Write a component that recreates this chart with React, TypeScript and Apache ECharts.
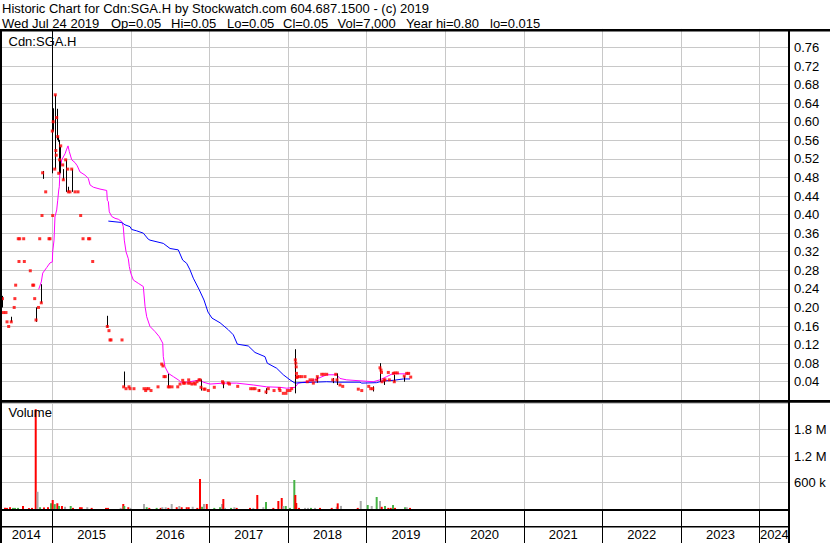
import React, { useEffect, useRef } from "react";
import * as echarts from "echarts";

// ---- axis range (decimal years) ----
const AXIS_START = 2014.3346;
const AXIS_END = 2024.3728;
const yearBoundaries = [2015, 2016, 2017, 2018, 2019, 2020, 2021, 2022, 2023, 2024];
const yearLabels = [2014, 2015, 2016, 2017, 2018, 2019, 2020, 2021, 2022, 2023, 2024];

// ---- price: daily closes (red dots) ----
const closeYears = [
  2014.366, 2014.379, 2014.411, 2014.424, 2014.445, 2014.478, 2014.515, 2014.524, 2014.534, 2014.567,
  2014.576, 2014.585, 2014.636, 2014.644, 2014.720, 2014.751, 2014.763, 2014.776, 2014.793, 2014.824,
  2014.840, 2014.860, 2014.869, 2014.877, 2014.916, 2014.958, 2014.971, 2015.000, 2015.005, 2015.011,
  2015.031, 2015.038, 2015.045, 2015.050, 2015.056, 2015.069, 2015.082, 2015.093, 2015.107, 2015.132,
  2015.140, 2015.170, 2015.196, 2015.204, 2015.225, 2015.247, 2015.289, 2015.327, 2015.361, 2015.391,
  2015.461, 2015.476, 2015.514, 2015.700, 2015.721, 2015.734, 2015.747, 2015.887, 2015.908, 2015.938,
  2015.976, 2015.989, 2016.039, 2016.167, 2016.188, 2016.201, 2016.227, 2016.256, 2016.345, 2016.392,
  2016.408, 2016.421, 2016.438, 2016.476, 2016.491, 2016.523, 2016.596, 2016.625, 2016.659, 2016.669,
  2016.682, 2016.727, 2016.735, 2016.752, 2016.777, 2016.803, 2016.819, 2016.841, 2016.867, 2016.879,
  2016.892, 2016.930, 2016.943, 2016.985, 2017.061, 2017.166, 2017.176, 2017.239, 2017.255, 2017.359,
  2017.524, 2017.554, 2017.579, 2017.630, 2017.719, 2017.748, 2017.821, 2017.888, 2017.897, 2017.939,
  2017.973, 2017.990, 2018.024, 2018.046, 2018.092, 2018.098, 2018.103, 2018.107, 2018.111, 2018.120,
  2018.143, 2018.173, 2018.215, 2018.244, 2018.279, 2018.313, 2018.321, 2018.364, 2018.372, 2018.428,
  2018.457, 2018.491, 2018.568, 2018.606, 2018.622, 2018.660, 2018.695, 2018.893, 2018.937, 2019.026,
  2019.051, 2019.077, 2019.169, 2019.182, 2019.188, 2019.195, 2019.220, 2019.233, 2019.275, 2019.288,
  2019.339, 2019.351, 2019.360, 2019.390, 2019.478, 2019.509, 2019.534, 2019.560,
];
const closeValues = [
  0.219, 0.189, 0.189, 0.169, 0.159, 0.169, 0.200, 0.219, 0.248, 0.348,
  0.299, 0.348, 0.348, 0.299, 0.279, 0.248, 0.248, 0.219, 0.173, 0.200,
  0.348, 0.210, 0.398, 0.490, 0.449, 0.348, 0.348, 0.580, 0.398, 0.600,
  0.498, 0.658, 0.538, 0.528, 0.609, 0.568, 0.489, 0.518, 0.548, 0.507,
  0.475, 0.518, 0.498, 0.449, 0.449, 0.498, 0.449, 0.449, 0.398, 0.348,
  0.348, 0.348, 0.299, 0.159, 0.150, 0.130, 0.130, 0.130, 0.029, 0.025,
  0.029, 0.025, 0.025, 0.025, 0.021, 0.025, 0.025, 0.021, 0.029, 0.078,
  0.074, 0.051, 0.051, 0.029, 0.029, 0.029, 0.029, 0.035, 0.043, 0.037,
  0.037, 0.037, 0.044, 0.037, 0.035, 0.037, 0.035, 0.040, 0.044, 0.044,
  0.028, 0.024, 0.024, 0.021, 0.028, 0.040, 0.037, 0.037, 0.035, 0.030,
  0.025, 0.025, 0.025, 0.021, 0.018, 0.025, 0.021, 0.025, 0.021, 0.015,
  0.015, 0.021, 0.021, 0.025, 0.087, 0.080, 0.072, 0.058, 0.049, 0.051,
  0.051, 0.051, 0.051, 0.040, 0.044, 0.044, 0.037, 0.044, 0.051, 0.056,
  0.056, 0.056, 0.044, 0.056, 0.044, 0.033, 0.030, 0.024, 0.021, 0.030,
  0.025, 0.025, 0.070, 0.065, 0.060, 0.040, 0.044, 0.044, 0.060, 0.044,
  0.058, 0.040, 0.059, 0.059, 0.052, 0.058, 0.058, 0.050,
];

// ---- price: daily high-low ranges (black bars) ----
const rangeYears = [
  2014.366, 2014.478, 2014.793, 2014.860, 2014.877, 2015.000, 2015.011, 2015.031, 2015.038, 2015.056,
  2015.069, 2015.082, 2015.093, 2015.140, 2015.170, 2015.204, 2015.247, 2015.700, 2015.908, 2016.476,
  2016.892, 2017.176, 2017.630, 2017.719, 2018.092, 2018.364, 2018.568, 2018.622, 2019.077, 2019.169,
  2019.220, 2019.351, 2019.478,
];
const rangeHigh = [
  0.225, 0.180, 0.200, 0.250, 0.494, 0.800, 0.629, 0.597, 0.658, 0.628,
  0.568, 0.561, 0.546, 0.498, 0.518, 0.460, 0.498, 0.182, 0.062, 0.057,
  0.045, 0.040, 0.024, 0.026, 0.110, 0.051, 0.048, 0.058, 0.030, 0.080,
  0.045, 0.055, 0.052,
];
const rangeLow = [
  0.200, 0.169, 0.169, 0.210, 0.477, 0.489, 0.579, 0.498, 0.579, 0.561,
  0.557, 0.489, 0.489, 0.475, 0.449, 0.449, 0.449, 0.157, 0.029, 0.029,
  0.021, 0.026, 0.019, 0.0135, 0.015, 0.038, 0.037, 0.033, 0.019, 0.040,
  0.033, 0.040, 0.040,
];

// ---- moving averages ----
const shortMaYears = [
  2014.827, 2014.860, 2014.878, 2014.929, 2014.971, 2015.000, 2015.005, 2015.022, 2015.034, 2015.056,
  2015.069, 2015.082, 2015.089, 2015.098, 2015.120, 2015.162, 2015.183, 2015.200, 2015.216, 2015.247,
  2015.289, 2015.318, 2015.352, 2015.416, 2015.458, 2015.480, 2015.522, 2015.607, 2015.692, 2015.700,
  2015.713, 2015.725, 2015.756, 2015.798, 2015.840, 2015.883, 2015.903, 2015.916, 2015.938, 2015.967,
  2015.980, 2015.998, 2016.031, 2016.094, 2016.158, 2016.180, 2016.201, 2016.243, 2016.307, 2016.361,
  2016.405, 2016.412, 2016.434, 2016.476, 2016.540, 2016.603, 2016.646, 2016.752, 2016.879, 2016.921,
  2017.006, 2017.176, 2017.346, 2017.557, 2017.728, 2017.897, 2017.982, 2018.088, 2018.130, 2018.237,
  2018.342, 2018.406, 2018.491, 2018.619, 2018.660, 2018.746, 2018.915, 2019.084, 2019.169, 2019.255,
  2019.339, 2019.424, 2019.551,
];
const shortMaValues = [
  0.239, 0.255, 0.274, 0.286, 0.296, 0.298, 0.320, 0.345, 0.395, 0.410,
  0.431, 0.453, 0.460, 0.496, 0.518, 0.531, 0.541, 0.548, 0.536, 0.518,
  0.512, 0.505, 0.492, 0.485, 0.478, 0.464, 0.459, 0.455, 0.452, 0.431,
  0.428, 0.406, 0.396, 0.392, 0.390, 0.385, 0.374, 0.345, 0.320, 0.305,
  0.288, 0.274, 0.259, 0.252, 0.245, 0.202, 0.180, 0.159, 0.148, 0.137,
  0.123, 0.094, 0.072, 0.058, 0.051, 0.044, 0.038, 0.040, 0.044, 0.039,
  0.035, 0.037, 0.037, 0.033, 0.029, 0.028, 0.026, 0.028, 0.037, 0.040,
  0.044, 0.049, 0.055, 0.055, 0.047, 0.044, 0.042, 0.040, 0.044, 0.051,
  0.058, 0.057, 0.057,
];
const longMaYears = [
  2015.713, 2015.883, 2015.925, 2015.989, 2016.010, 2016.074, 2016.158, 2016.221, 2016.243, 2016.412,
  2016.498, 2016.603, 2016.659, 2016.710, 2016.752, 2016.794, 2016.867, 2016.930, 2016.981, 2017.032,
  2017.134, 2017.239, 2017.303, 2017.354, 2017.494, 2017.579, 2017.706, 2017.735, 2017.855, 2017.939,
  2018.024, 2018.088, 2018.151, 2018.321, 2018.491, 2018.660, 2018.915, 2018.937, 2019.127, 2019.169,
  2019.233, 2019.339, 2019.466, 2019.551,
];
const longMaValues = [
  0.386, 0.383, 0.378, 0.374, 0.368, 0.365, 0.360, 0.347, 0.345, 0.338,
  0.327, 0.324, 0.302, 0.295, 0.281, 0.263, 0.239, 0.216, 0.190, 0.177,
  0.167, 0.152, 0.141, 0.121, 0.117, 0.103, 0.094, 0.080, 0.069, 0.055,
  0.044, 0.037, 0.038, 0.039, 0.040, 0.039, 0.039, 0.037, 0.038, 0.040,
  0.042, 0.043, 0.046, 0.046,
];

// ---- volume (direction: 1 up, -1 down, 0 unchanged) ----
const volYears = [
  2014.347, 2014.398, 2014.424, 2014.462, 2014.500, 2014.525, 2014.564, 2014.627, 2014.703, 2014.742,
  2014.789, 2014.812, 2014.844, 2014.894, 2014.945, 2014.984, 2015.005, 2015.031, 2015.064, 2015.085,
  2015.123, 2015.162, 2015.234, 2015.263, 2015.352, 2015.374, 2015.445, 2015.501, 2015.683, 2015.709,
  2015.870, 2015.903, 2015.916, 2015.967, 2015.998, 2016.167, 2016.201, 2016.234, 2016.328, 2016.379,
  2016.400, 2016.443, 2016.476, 2016.519, 2016.583, 2016.616, 2016.646, 2016.710, 2016.735, 2016.786,
  2016.845, 2016.879, 2016.905, 2016.930, 2016.965, 2017.061, 2017.134, 2017.159, 2017.176, 2017.197,
  2017.274, 2017.316, 2017.346, 2017.515, 2017.557, 2017.608, 2017.685, 2017.719, 2017.812, 2017.876,
  2017.919, 2017.939, 2017.970, 2018.024, 2018.079, 2018.092, 2018.104, 2018.139, 2018.215, 2018.253,
  2018.291, 2018.342, 2018.406, 2018.555, 2018.619, 2018.631, 2018.673, 2018.886, 2018.924, 2019.013,
  2019.064, 2019.127, 2019.169, 2019.191, 2019.233, 2019.275, 2019.306, 2019.335, 2019.360, 2019.488,
  2019.509, 2019.551,
];
const volValues = [
  40000, 28000, 25000, 40000, 25000, 25000, 25000, 68000, 20000, 25000,
  2260000, 390000, 40000, 35000, 40000, 130000, 204000, 110000, 130000, 68000,
  68000, 50000, 68000, 25000, 40000, 40000, 40000, 25000, 25000, 25000,
  25000, 113000, 68000, 40000, 25000, 113000, 40000, 25000, 25000, 25000,
  40000, 40000, 25000, 113000, 40000, 68000, 40000, 40000, 40000, 50000,
  25000, 679000, 50000, 113000, 113000, 25000, 40000, 113000, 226000, 25000,
  25000, 40000, 25000, 25000, 25000, 317000, 40000, 158000, 25000, 181000,
  249000, 68000, 68000, 25000, 657000, 317000, 136000, 25000, 25000, 25000,
  25000, 25000, 25000, 25000, 50000, 128000, 70000, 25000, 181000, 90000,
  68000, 272000, 181000, 50000, 68000, 25000, 25000, 90000, 25000, 40000,
  40000, 25000,
];
const volDirection = [
  1, -1, -1, -1, 1, 1, 1, -1, -1, -1,
  -1, 0, 1, -1, -1, 1, -1, 1, -1, 1,
  -1, 0, 1, -1, -1, -1, 0, -1, -1, -1,
  0, -1, 1, -1, 0, 0, 1, -1, 1, -1,
  0, 0, -1, 0, -1, 0, -1, -1, -1, 0,
  -1, -1, 1, 0, -1, 1, 1, 0, -1, 0,
  1, 0, -1, -1, 0, -1, 0, 1, -1, -1,
  -1, 0, 1, 1, 1, -1, -1, -1, 0, 0,
  1, 0, -1, -1, 0, -1, 0, -1, 0, 1,
  0, 1, 0, -1, 1, -1, -1, 1, -1, 1,
  0, -1,
];

// ---- header texts ----
const titleText = "Historic Chart for Cdn:SGA.H by Stockwatch.com 604.687.1500 - (c) 2019";
const quoteParts = [
  "Wed Jul 24 2019", "Op=0.05", "Hi=0.05", "Lo=0.05", "Cl=0.05", "Vol=7,000", "Year hi=0.80", "lo=0.015",
];
const quotePartX = [2, 111, 171, 227, 283, 337.5, 406, 490];

const FONT = '"Liberation Sans", Arial, sans-serif';
const GRID_GRAY = "#c8c8c8";
const DIR_COLORS: Record<string, string> = { "1": "#47b347", "-1": "#ff0000", "0": "#a9a9a9" };

function labelPositions(): number[] {
  return yearLabels.map((y) => {
    if (y === 2014) return (AXIS_START + 2015) / 2;
    if (y === 2024) return (2024 + AXIS_END) / 2;
    return y + 0.5;
  });
}

function volLabel(v: number): string {
  if (Math.abs(v - 600000) < 1) return "600 k";
  if (Math.abs(v - 1200000) < 1) return "1.2 M";
  if (Math.abs(v - 1800000) < 1) return "1.8 M";
  return "";
}

export default function App() {
  const ref = useRef<HTMLDivElement>(null);

  useEffect(() => {
    if (!ref.current) return;
    const chart = echarts.init(ref.current, null, { renderer: "svg" });

    const textEl = (text: string, x: number, y: number) => ({
      type: "text",
      x,
      y,
      z: 200,
      style: { text, fill: "#000", fontSize: 13, fontFamily: FONT, verticalAlign: "top" },
    });
    const blk = (x: number, y: number, w: number, h: number) => ({
      type: "rect",
      z: 150,
      shape: { x, y, width: w, height: h },
      style: { fill: "#000" },
    });

    const graphics: any[] = [
      blk(0, 29, 830, 2.5),
      blk(0, 29, 2, 514),
      blk(788, 29, 2, 514),
      blk(0, 400, 830, 2.7),
      blk(0, 509, 790, 2),
      blk(0, 526, 790, 1.5),
      textEl(titleText, 2, 1.5),
      ...quoteParts.map((t, i) => textEl(t, quotePartX[i], 16.5)),
      textEl("Cdn:SGA.H", 8.5, 35),
      textEl("Volume", 8.5, 406),
    ];

    const xCommon = {
      type: "value",
      min: AXIS_START,
      max: AXIS_END,
      axisLine: { show: false },
    };

    const option: any = {
      animation: false,
      backgroundColor: "#ffffff",
      grid: [
        { left: 0, right: 41, top: 28.9, height: 371.4, containLabel: false, outerBoundsMode: "none" },
        { left: 0, right: 41, top: 403, height: 106, containLabel: false, outerBoundsMode: "none" },
      ],
      xAxis: [
        {
          ...xCommon,
          gridIndex: 0,
          axisTick: { show: false, customValues: yearBoundaries },
          axisLabel: { show: false },
          splitLine: { show: true, lineStyle: { color: GRID_GRAY, width: 1 } },
        },
        {
          ...xCommon,
          gridIndex: 1,
          axisTick: {
            show: true,
            inside: false,
            length: 34,
            customValues: yearBoundaries,
            lineStyle: { color: "#000", width: 1 },
          },
          axisLabel: {
            show: true,
            customValues: labelPositions(),
            formatter: (v: number) => String(Math.floor(v)),
            margin: 19,
            fontSize: 13,
            fontFamily: FONT,
            color: "#000",
          },
          splitLine: { show: true, lineStyle: { color: GRID_GRAY, width: 1 } },
        },
      ],
      yAxis: [
        {
          type: "value",
          gridIndex: 0,
          position: "right",
          min: 0,
          max: 0.8,
          interval: 0.04,
          axisLine: { show: false },
          axisTick: { show: false },
          axisLabel: {
            showMinLabel: false,
            showMaxLabel: false,
            margin: 5,
            fontSize: 13,
            fontFamily: FONT,
            color: "#000",
            formatter: (v: number) => v.toFixed(2),
          },
          splitLine: { show: true, lineStyle: { color: GRID_GRAY, width: 1 } },
        },
        {
          type: "value",
          gridIndex: 1,
          position: "right",
          min: 0,
          max: 2400000,
          interval: 600000,
          axisLine: { show: false },
          axisTick: { show: false },
          axisLabel: {
            showMinLabel: false,
            showMaxLabel: false,
            margin: 5,
            fontSize: 13,
            fontFamily: FONT,
            color: "#000",
            formatter: volLabel,
          },
          splitLine: { show: true, lineStyle: { color: GRID_GRAY, width: 1 } },
        },
      ],
      series: [
        {
          type: "line",
          name: "short MA",
          xAxisIndex: 0,
          yAxisIndex: 0,
          data: shortMaYears.map((t, i) => [t, shortMaValues[i]]),
          showSymbol: false,
          lineStyle: { color: "#ff00ff", width: 1 },
          itemStyle: { color: "#ff00ff" },
          z: 2,
        },
        {
          type: "line",
          name: "long MA",
          xAxisIndex: 0,
          yAxisIndex: 0,
          data: longMaYears.map((t, i) => [t, longMaValues[i]]),
          showSymbol: false,
          lineStyle: { color: "#0000ff", width: 1 },
          itemStyle: { color: "#0000ff" },
          z: 2,
        },
        {
          type: "custom",
          name: "range",
          xAxisIndex: 0,
          yAxisIndex: 0,
          data: rangeYears.map((t, i) => [t, rangeLow[i], rangeHigh[i]]),
          encode: { x: 0, y: [1, 2] },
          renderItem: (_params: any, api: any) => {
            const lo = api.coord([api.value(0), api.value(1)]);
            const hi = api.coord([api.value(0), api.value(2)]);
            const x = Math.round(lo[0]) + 0.5;
            return {
              type: "line",
              shape: { x1: x, y1: lo[1], x2: x, y2: hi[1] },
              style: { stroke: "#000", lineWidth: 1 },
            };
          },
          z: 3,
        },
        {
          type: "scatter",
          name: "close",
          xAxisIndex: 0,
          yAxisIndex: 0,
          data: closeYears.map((t, i) => [t, closeValues[i]]),
          symbol: "rect",
          symbolSize: 3,
          itemStyle: { color: "#ff0000" },
          z: 4,
        },
        {
          type: "bar",
          name: "volume",
          xAxisIndex: 1,
          yAxisIndex: 1,
          barWidth: 2,
          data: volYears.map((t, i) => ({
            value: [t, volValues[i]],
            itemStyle: { color: DIR_COLORS[String(volDirection[i])] },
          })),
          z: 3,
        },
      ],
      graphic: graphics,
    };

    chart.setOption(option);
    return () => chart.dispose();
  }, []);

  return (
    <div
      ref={ref}
      style={{ position: "fixed", left: 0, top: 0, width: 830, height: 543, background: "#fff" }}
    />
  );
}
